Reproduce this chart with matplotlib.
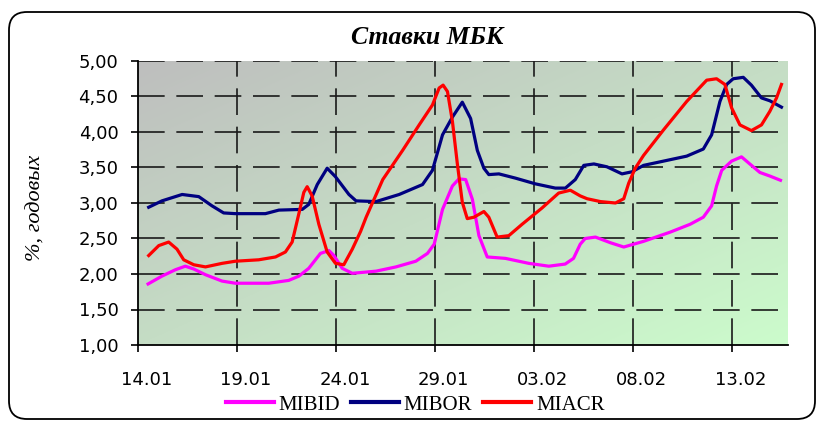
import matplotlib
matplotlib.use("Agg")
import matplotlib.pyplot as plt
import matplotlib.transforms as mtransforms
from matplotlib.patches import FancyBboxPatch
import numpy as np

# days counted from 14.01
tick_labels = ["14.01", "19.01", "24.01", "29.01", "03.02", "08.02", "13.02"]
tick_days = [0, 5, 10, 15, 20, 25, 30]

mibor_days = [0.54, 1.21, 2.23, 3.07, 3.74, 4.33, 4.92, 6.44, 7.12, 8.3, 8.63,
              9.06, 9.56, 9.98, 10.66, 11.02, 12.03, 13.2, 14.38, 14.88, 15.39,
              15.89, 16.39, 16.81, 17.15, 17.48, 17.73, 18.24, 19.08, 20.08,
              21.09, 21.6, 22.1, 22.53, 23.04, 23.7, 24.46, 24.97, 25.55, 26.56,
              27.73, 28.57, 28.99, 29.41, 29.75, 30.08, 30.59, 31.0, 31.51,
              31.93, 32.52]
mibor = [2.94, 3.03, 3.12, 3.09, 2.96, 2.86, 2.85, 2.85, 2.9, 2.91, 2.98,
         3.26, 3.49, 3.37, 3.12, 3.03, 3.02, 3.12, 3.26, 3.46, 3.96,
         4.21, 4.42, 4.19, 3.74, 3.49, 3.40, 3.41, 3.35, 3.27,
         3.21, 3.21, 3.33, 3.53, 3.55, 3.51, 3.41, 3.44, 3.53, 3.59,
         3.66, 3.76, 3.96, 4.43, 4.67, 4.75, 4.77, 4.66, 4.48,
         4.44, 4.35]

miacr_days = [0.54, 1.05, 1.55, 1.97, 2.31, 2.82, 3.41, 4.25, 4.92, 6.1, 6.95,
              7.45, 7.79, 8.13, 8.38, 8.55, 8.8, 9.14, 9.56, 9.98, 10.4, 10.83,
              11.25, 11.53, 12.37, 13.37, 14.21, 14.88, 15.22, 15.42, 15.64,
              15.89, 16.14, 16.39, 16.64, 16.98, 17.48, 17.73, 18.15, 18.74,
              19.41, 20.42, 21.26, 21.85, 22.35, 22.7, 23.37, 24.13, 24.55,
              24.8, 25.13, 25.55, 26.56, 27.73, 28.74, 29.24, 29.66, 30.0,
              30.42, 31.0, 31.51, 31.93, 32.27, 32.52]
miacr = [2.26, 2.40, 2.45, 2.35, 2.20, 2.13, 2.10, 2.15, 2.18, 2.20, 2.24,
         2.31, 2.45, 2.85, 3.15, 3.23, 3.10, 2.70, 2.31, 2.15, 2.13, 2.35,
         2.60, 2.80, 3.33, 3.74, 4.10, 4.38, 4.62, 4.66, 4.57,
         4.15, 3.55, 3.01, 2.78, 2.80, 2.88, 2.80, 2.52, 2.54,
         2.70, 2.93, 3.14, 3.18, 3.10, 3.06, 3.02, 3.00, 3.06,
         3.28, 3.49, 3.67, 4.03, 4.43, 4.73, 4.75, 4.67, 4.34,
         4.10, 4.02, 4.10, 4.29, 4.48, 4.67]

mibid_days = [0.51, 1.21, 1.89, 2.39, 2.82, 3.41, 4.25, 4.92, 6.61, 7.62, 8.13,
              8.63, 9.22, 9.65, 9.9, 10.32, 10.83, 12.03, 13.04, 14.04, 14.63,
              14.97, 15.39, 15.89, 16.22, 16.56, 16.9, 17.23, 17.65, 18.57,
              19.75, 20.76, 21.59, 22.01, 22.35, 22.6, 23.12, 23.88, 24.55,
              25.55, 26.9, 27.9, 28.57, 28.99, 29.24, 29.5, 30.0, 30.5, 30.92,
              31.43, 31.93, 32.47]
mibid = [1.86, 1.97, 2.06, 2.11, 2.07, 1.99, 1.90, 1.87, 1.87, 1.91, 1.97,
         2.08, 2.29, 2.33, 2.26, 2.08, 2.01, 2.04, 2.10, 2.18, 2.29,
         2.42, 2.91, 3.24, 3.34, 3.33, 3.05, 2.54, 2.24, 2.22,
         2.15, 2.11, 2.14, 2.22, 2.42, 2.50, 2.52, 2.44, 2.38,
         2.46, 2.59, 2.70, 2.80, 2.96, 3.24, 3.46, 3.59, 3.65, 3.55,
         3.43, 3.38, 3.32]

W, H = 817, 421
fig = plt.figure(figsize=(W / 100, H / 100), dpi=100)
ax = fig.add_axes([138 / W, 1 - 345 / H, (788 - 138) / W, (345 - 61) / H])

xmin, xmax, ymin, ymax = 0, 32.85, 1.0, 5.0

# diagonal gradient: gray top-left -> light green bottom-right
c0 = np.array([190, 190, 190]) / 255
c1 = np.array([204, 252, 204]) / 255
u = np.linspace(0, 1, 300)[None, :]
v = np.linspace(0, 1, 200)[:, None]
t = (u + v) / 2
grad = c0 + t[..., None] * (c1 - c0)
ax.imshow(grad, extent=[xmin, xmax, ymin, ymax], aspect="auto",
          origin="upper", zorder=0)

ax.plot(mibid_days, mibid, color="#ff00ff", lw=2.3, label="MIBID", zorder=3)
ax.plot(mibor_days, mibor, color="#000080", lw=2.3, label="MIBOR", zorder=3)
ax.plot(miacr_days, miacr, color="#ff0000", lw=2.3, label="MIACR", zorder=3)

ax.set_xlim(xmin, xmax)
ax.set_ylim(ymin, ymax)

grid_style = dict(color="#1a1a1a", lw=1.2, linestyle=(0, (16, 7)))
for d in tick_days[1:]:
    ax.axvline(d, zorder=1, **grid_style)
for yv in np.arange(1.5, 5.01, 0.5):
    ax.axhline(yv, zorder=1, **grid_style)

ax.set_xticks(tick_days)
ax.set_xticklabels(tick_labels)
yt = np.arange(1.0, 5.01, 0.5)
ax.set_yticks(yt)
ax.set_yticklabels([f"{v:.2f}".replace(".", ",") for v in yt])

ax.tick_params(axis="both", direction="out", length=5, width=1.2,
               labelsize=13, colors="black")
ax.tick_params(axis="y", pad=9)
ax.tick_params(axis="x", pad=14)
offset = mtransforms.ScaledTranslation(0.09, 0, fig.dpi_scale_trans)
for lab in ax.get_xticklabels():
    lab.set_transform(lab.get_transform() + offset)

for s in ["top", "right"]:
    ax.spines[s].set_visible(False)
for s in ["left", "bottom"]:
    ax.spines[s].set_linewidth(1.3)
    ax.spines[s].set_zorder(4)

fig.text(427 / W, 1 - 38 / H, "Ставки МБК", ha="center", va="center",
         fontsize=18.5, fontweight="bold", fontstyle="italic",
         family="Liberation Serif")
fig.text(36 / W, 1 - 208 / H, "%, годовых", ha="center", va="center",
         rotation=90, fontsize=16, fontstyle="italic",
         family="Liberation Serif")

leg = fig.legend(loc="center", bbox_to_anchor=(415 / W, 1 - 405 / H), ncol=3,
                 frameon=False, prop={"family": "Liberation Serif", "size": 15},
                 handlelength=2.3, handletextpad=0.25, columnspacing=0.5,
                 borderaxespad=0)
for line in leg.get_lines():
    line.set_linewidth(3)

border = FancyBboxPatch((9 / 100, 2 / 100), 806 / 100, 407 / 100,
                        boxstyle="round,pad=0,rounding_size=0.18",
                        transform=fig.dpi_scale_trans, fill=False,
                        lw=1.3, edgecolor="black")
fig.patches.append(border)

fig.savefig("out.png", dpi=100)
